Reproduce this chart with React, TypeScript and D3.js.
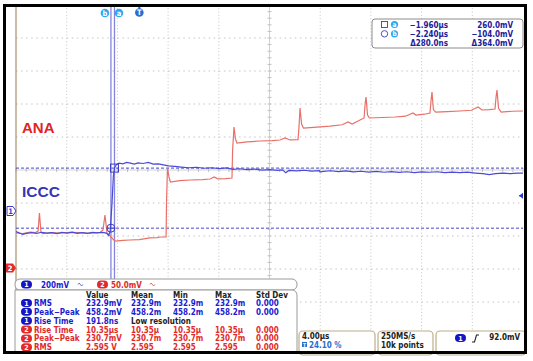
import React from 'react'
import * as d3 from 'd3'

const W = 533
const H = 361

// scope settings (4.00us/div, trigger at 24.1 %)
const timeDomain: [number, number] = [-9.73, 30.27] // us across 10 div
const ch1Scale = 200 // mV/div
const ch2Scale = 50 // mV/div
const triggerLevel = 92 // mV, ch1

// cursors: a, b
const cursorTimes = [-1.96, -2.24]
const cursorLevels = [260, -104]
const cursorNames = ['a', 'b']

// ICCC, ch1 (us, mV)
const ch1Trace: [number, number][] = [
  [-9.73, -125], [-9.45, -133], [-9.2, -142], [-8.9, -136], [-8.5, -131], [-8.1, -136],
  [-7.7, -129], [-7.3, -134], [-6.9, -131], [-6.5, -137], [-6.1, -130], [-5.7, -134],
  [-5.3, -128], [-4.9, -135], [-4.5, -131], [-4.1, -136], [-3.7, -129], [-3.3, -133],
  [-2.9, -130], [-2.6, -134], [-2.42, -148], [-2.3, -122], [-2.16, 40], [-2.05, 210],
  [-1.95, 262], [-1.8, 282], [-1.6, 290], [-1.3, 286], [-1.0, 294], [-0.7, 290],
  [-0.4, 284], [-0.1, 292], [0.3, 288], [0.7, 294], [1.1, 284], [1.5, 286], [1.9, 280],
  [2.3, 274], [2.8, 270], [3.3, 266], [3.9, 262], [4.5, 265], [5.1, 259], [5.7, 262],
  [6.3, 257], [6.9, 261], [7.4, 252], [7.9, 256], [8.5, 251], [9.1, 254], [9.7, 248],
  [10.3, 251], [10.9, 246], [11.3, 249], [11.55, 232], [11.8, 246], [12.4, 243],
  [13.0, 247], [13.6, 242], [14.2, 245], [14.26, 236], [14.5, 240], [15.1, 244],
  [15.7, 239], [16.3, 243], [16.9, 237], [17.5, 241], [18.1, 236], [18.7, 240],
  [19.3, 235], [19.9, 239], [20.5, 234], [21.1, 238], [21.7, 233], [22.3, 237],
  [22.9, 235], [23.5, 238], [24.1, 233], [24.7, 236], [25.3, 232], [25.9, 235],
  [26.5, 230], [27.1, 226], [27.6, 221], [28.1, 226], [28.7, 229], [29.3, 226],
  [29.8, 230], [30.27, 229],
]

// ANA, ch2 (us, mV)
const ch2Trace: [number, number][] = [
  [-9.73, 53], [-9.2, 52], [-8.6, 54.5], [-8.23, 53.5], [-7.99, 56], [-7.88, 83.3],
  [-7.76, 54], [-7.6, 52], [-6.9, 53.5], [-6.26, 53], [-5.5, 54], [-4.68, 53.5],
  [-3.9, 52.5], [-3.1, 54], [-2.87, 57.6], [-2.71, 80.3], [-2.55, 53], [-2.31, 48.5],
  [-2.08, 43.9], [-1.92, 40.9], [-1.3, 42], [-0.73, 42.4], [0.0, 43], [0.84, 45.5],
  [1.4, 46], [1.63, 47], [2.11, 47], [2.15, 103], [2.22, 151.5], [2.34, 138],
  [2.45, 130.3], [3.2, 132.5], [4.0, 133.3], [5.0, 134], [5.58, 134.8], [5.9, 137.9],
  [6.2, 135], [6.8, 135.5], [7.31, 136.4], [7.36, 178.8], [7.47, 213.6], [7.58, 196],
  [7.7, 189.4], [8.5, 191], [9.52, 192.4], [10.5, 193], [11.1, 193.9], [11.5, 197],
  [11.89, 194], [12.52, 194.5], [12.6, 215], [12.68, 242.4], [12.8, 218], [12.95, 212.1],
  [14.0, 213.5], [15.04, 215.1], [16.0, 217], [16.47, 221.2], [16.78, 218.2], [17.3, 223],
  [17.73, 227.3], [17.82, 250], [17.89, 259.1], [18.0, 232], [18.15, 227.3], [19.2, 228],
  [20.17, 228.8], [21.0, 230], [21.59, 234.8], [21.83, 231.8], [22.5, 233], [22.93, 234.8],
  [23.02, 255], [23.09, 266.6], [23.2, 240], [23.38, 236.3], [24.3, 237], [25.3, 237.9],
  [26.2, 239], [26.72, 243.9], [27.04, 239.4], [27.6, 240], [28.06, 240.9], [28.15, 260],
  [28.22, 269.7], [28.34, 242], [28.55, 236.3], [29.4, 237.5], [30.27, 237.9],
]

const readoutRows = [
  ['−1.960µs', '260.0mV'],
  ['−2.240µs', '−104.0mV'],
  ['Δ280.0ns', 'Δ364.0mV'],
]

const measHeader = ['Value', 'Mean', 'Min', 'Max', 'Std Dev']
const measChannels = [1, 1, 1, 2, 2, 2]
const measNames = ['RMS', 'Peak−Peak', 'Rise Time', 'Rise Time', 'Peak−Peak', 'RMS']
const measValues = [
  ['232.9mV', '232.9m', '232.9m', '232.9m', '0.000'],
  ['458.2mV', '458.2m', '458.2m', '458.2m', '0.000'],
  ['191.8ns', 'Low resolution'],
  ['10.35µs', '10.35µ', '10.35µ', '10.35µ', '0.000'],
  ['230.7mV', '230.7m', '230.7m', '230.7m', '0.000'],
  ['2.595 V', '2.595', '2.595', '2.595', '0.000'],
]

const BLUE = '#1c1cd0'
const RED = '#e22a2a'
const TRACE1 = '#4a4ad8'
const TRACE2 = '#e87068'
const CYAN = '#2eaaee'
const TAN = '#bcae88'
const FONT = '"DejaVu Sans Condensed", "DejaVu Sans", sans-serif'

function Pill({ x, y, n }: { x: number; y: number; n: number }) {
  return (
    <g>
      <rect x={x} y={y - 4} width={11} height={8} rx={4} fill={n === 1 ? '#1515c4' : RED} />
      <text x={x + 5.5} y={y + 2.6} textAnchor="middle" fill="white" fontSize={7} fontWeight="bold">{n}</text>
    </g>
  )
}

function Squiggle({ x, y, color }: { x: number; y: number; color: string }) {
  return (
    <path d={`M${x},${y + 1.5} q1.2,-3 2.4,0 t2.4,0`} fill="none" stroke={color} strokeWidth={1} />
  )
}

export default function App() {
  const x = d3.scaleLinear().domain(timeDomain).range([16, 523])
  const divX = d3.scaleLinear().domain([0, 10]).range([16, 523])
  const divY = d3.scaleLinear().domain([0, 10]).range([5, 335])
  const y1 = d3.scaleLinear().domain([0, ch1Scale]).range([211, 178])
  const y2 = d3.scaleLinear().domain([0, ch2Scale]).range([268, 235])

  const line1 = d3.line<[number, number]>().x(d => x(d[0])).y(d => y1(d[1]))
  const line2 = d3.line<[number, number]>().x(d => x(d[0])).y(d => y2(d[1]))

  const minor = d3.range(0, 10.01, 0.2)
  const cx = divX(5)
  const cy = divY(5)

  const [ca, cb] = cursorTimes.map(t => x(t))
  const [la, lb] = cursorLevels.map(v => y1(v))
  const measCols = [86, 131, 173, 215, 256]
  const rowY = (i: number) => 306 + i * 8.85

  return (
    <div style={{ position: 'absolute', left: 0, top: 0 }}>
      <svg width={W} height={H} style={{ display: 'block', fontFamily: FONT }}>
        <rect width={W} height={H} fill="white" />

        {/* graticule */}
        <g>
          {d3.range(1, 10).filter(i => i !== 5).map(i => (
            <line key={'v' + i} x1={divX(i)} x2={divX(i)} y1={divY(0)} y2={divY(10)}
              stroke="#c4c4c4" strokeWidth={1} strokeDasharray="1,2.3" />
          ))}
          {d3.range(1, 10).filter(i => i !== 5).map(i => (
            <line key={'h' + i} x1={divX(0)} x2={divX(10)} y1={divY(i)} y2={divY(i)}
              stroke="#c4c4c4" strokeWidth={1} strokeDasharray="1.5,3.57" />
          ))}
          <line x1={cx} x2={cx} y1={divY(0)} y2={divY(10)} stroke="#d2d2d2" strokeWidth={1} />
          <line x1={divX(0)} x2={divX(10)} y1={cy} y2={cy} stroke="#d2d2d2" strokeWidth={1} />
          {minor.map(m => (
            <line key={'tx' + m} x1={cx - 2} x2={cx + 2} y1={divY(m)} y2={divY(m)} stroke="#c0c0c0" strokeWidth={1} />
          ))}
          {minor.map(m => (
            <line key={'ty' + m} x1={divX(m)} x2={divX(m)} y1={cy - 2} y2={cy + 2} stroke="#c0c0c0" strokeWidth={1} />
          ))}
          <line x1={16} x2={16} y1={5} y2={352} stroke="#a88f6c" strokeWidth={1.2} />
        </g>

        {/* cursors */}
        <line x1={16} x2={523} y1={la} y2={la} stroke="#4646cc" strokeWidth={1} strokeDasharray="3,2" />
        <line x1={16} x2={523} y1={lb} y2={lb} stroke="#4646cc" strokeWidth={1} strokeDasharray="3,2" />
        <line x1={ca} x2={ca} y1={5} y2={279} stroke="#8484dc" strokeWidth={1.3} />
        <line x1={cb} x2={cb} y1={5} y2={279} stroke="#8484dc" strokeWidth={1.3} />

        {/* traces */}
        <path d={line2(ch2Trace) || ''} fill="none" stroke={TRACE2} strokeWidth={1.2} />
        <path d={line1(ch1Trace) || ''} fill="none" stroke={TRACE1} strokeWidth={1.2} />

        <rect x={ca - 4} y={la - 4} width={8} height={8} fill="none" stroke="#3c3cc4" strokeWidth={1} />
        <circle cx={cb} cy={lb} r={4} fill="none" stroke="#3c3cc4" strokeWidth={1} />
        <line x1={cb - 4} x2={cb + 4} y1={lb} y2={lb} stroke="#3c3cc4" strokeWidth={0.8} />

        {/* top markers */}
        {cursorNames.map((n, i) => {
          const px = i === 0 ? ca + 4.5 : cb - 6
          return (
            <g key={n}>
              <circle cx={px} cy={13} r={4.3} fill={CYAN} />
              <text x={px} y={15.6} textAnchor="middle" fill="white" fontSize={7.5} fontWeight="bold">{n}</text>
            </g>
          )
        })}
        <g>
          <rect x={x(0) - 1} y={5} width={2} height={4} fill="#2a6ed0" />
          <circle cx={x(0)} cy={12.5} r={4.3} fill="#2a6ed0" />
          <text x={x(0)} y={15.3} textAnchor="middle" fill="white" fontSize={7.5} fontWeight="bold">T</text>
        </g>

        {/* channel labels */}
        <text x={22} y={133} fill="#e02424" fontSize={15} fontWeight="bold" fontFamily="Liberation Sans, Arial, sans-serif">ANA</text>
        <text x={22} y={197} fill="#3535b5" fontSize={15.5} fontWeight="bold" fontFamily="Liberation Sans, Arial, sans-serif">ICCC</text>

        {/* ground / trigger markers */}
        <path d={`M7,${y1(0) - 4.5} h6 l3,4.5 l-3,4.5 h-6 z`} fill="white" stroke="#3c3cc4" strokeWidth={1} />
        <text x={10.5} y={y1(0) + 3} textAnchor="middle" fill="#3c3cc4" fontSize={7.5} fontWeight="bold">1</text>
        <path d={`M6,${y2(0) - 4.5} h7 l3,4.5 l-3,4.5 h-7 z`} fill={RED} />
        <text x={10} y={y2(0) + 3} textAnchor="middle" fill="white" fontSize={7.5} fontWeight="bold">2</text>
        <path d={`M519,${y1(triggerLevel)} l4,-3 v6 z`} fill="#2a3ad0" />
        <line x1={519} x2={523} y1={y1(triggerLevel)} y2={y1(triggerLevel)} stroke="#2a3ad0" strokeWidth={1} />

        {/* cursor readout */}
        <rect x={372} y={19} width={151} height={29} rx={3} fill="white" stroke="#8c8c8c" strokeWidth={1} />
        <rect x={381.5} y={21.5} width={6} height={6} fill="none" stroke="#3c3cc4" strokeWidth={0.9} />
        <circle cx={384.5} cy={33.8} r={3.2} fill="none" stroke="#3c3cc4" strokeWidth={0.9} />
        {cursorNames.map((n, i) => (
          <g key={'r' + n}>
            <circle cx={394.5} cy={24.5 + i * 9.3} r={3.6} fill={CYAN} />
            <text x={394.5} y={26.8 + i * 9.3} textAnchor="middle" fill="white" fontSize={6.5} fontWeight="bold">{n}</text>
          </g>
        ))}
        {readoutRows.map((r, i) => (
          <g key={'ro' + i} fill="#20209a" fontSize={8} fontWeight="bold">
            <text x={448} y={27.5 + i * 9.4} textAnchor="end">{r[0]}</text>
            <text x={513} y={27.5 + i * 9.4} textAnchor="end">{r[1]}</text>
          </g>
        ))}

        {/* channel bar */}
        <rect x={15} y={279} width={282} height={11} rx={5} fill="white" stroke="#9a9a9a" strokeWidth={1} />
        <Pill x={21} y={284.5} n={1} />
        <text x={41} y={287.5} fill={BLUE} fontSize={8} fontWeight="bold">200mV</text>
        <Squiggle x={78} y={283} color="#5a6ad0" />
        <Pill x={97} y={284.5} n={2} />
        <text x={111} y={287.5} fill={RED} fontSize={8} fontWeight="bold">50.0mV</text>
        <Squiggle x={150} y={283} color="#e06060" />

        {/* measurement table */}
        <path d="M15,352 V290 H292 a5,5 0 0 1 5,5 V352" fill="white" stroke="#9a9a9a" strokeWidth={1} />
        {measHeader.map((h, i) => (
          <text key={h} x={measCols[i]} y={297.5} fill="#222" fontSize={8} fontWeight="bold">{h}</text>
        ))}
        {measNames.map((name, i) => {
          const color = measChannels[i] === 1 ? BLUE : RED
          return (
            <g key={'m' + i} fontSize={8} fontWeight="bold" fill={color}>
              <Pill x={21} y={rowY(i) - 3} n={measChannels[i]} />
              <text x={34} y={rowY(i)}>{name}</text>
              {measValues[i].map((v, j) => (
                <text key={j} x={measCols[j]} y={rowY(i)} fill={v === 'Low resolution' ? '#222' : color}>{v}</text>
              ))}
            </g>
          )
        })}

        {/* horizontal / acquisition / trigger boxes */}
        <rect x={299} y={331} width={76} height={24} rx={4} fill="white" stroke={TAN} strokeWidth={1.2} />
        <text x={302} y={338.5} fill="#222" fontSize={8} fontWeight="bold">4.00µs</text>
        <rect x={302} y={342} width={5} height={5} fill="#2a6ed0" />
        <text x={304.5} y={346.5} textAnchor="middle" fill="white" fontSize={5} fontWeight="bold">T</text>
        <text x={309} y={347.5} fill="#2a6ed0" fontSize={8} fontWeight="bold">24.10 %</text>

        <rect x={378} y={331} width={55} height={24} rx={4} fill="white" stroke={TAN} strokeWidth={1.2} />
        <text x={381} y={338.5} fill="#222" fontSize={8} fontWeight="bold">250MS/s</text>
        <text x={381} y={347.5} fill="#222" fontSize={8} fontWeight="bold">10k points</text>

        <rect x={436} y={331} width={90} height={24} rx={4} fill="white" stroke={TAN} strokeWidth={1.2} />
        <Pill x={455} y={338} n={1} />
        <path d="M472,342 h2.5 l2,-7 h2.5" fill="none" stroke="#222" strokeWidth={1.1} />
        <text x={520} y={339.5} textAnchor="end" fill="#222" fontSize={8} fontWeight="bold">92.0mV</text>

        {/* outer frame */}
        <rect x={4.5} y={5.5} width={521} height={347} fill="none" stroke="black" strokeWidth={3} />
      </svg>
    </div>
  )
}
